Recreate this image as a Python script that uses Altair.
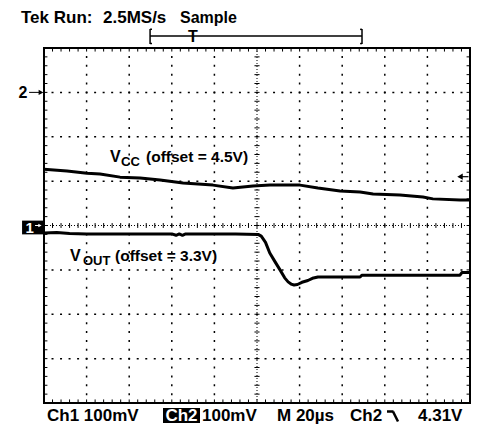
import altair as alt
import pandas as pd
import numpy as np

# ---------------- data ----------------
# time base 20 us/div, 10 divisions -> 0..200 us ; both channels 100 mV/div
vout_t = [0, 6, 12, 20, 40, 60, 62, 63.5, 65, 66.5, 68, 90, 100.5, 102, 104, 106, 108.5,
          110.8, 113, 114.6, 116, 117.4, 119, 121.1, 123.9, 126, 128.6, 148.4, 149.3,
          195.3, 196.2, 200]
vout_mv = [-17, -16, -18, -19, -19, -19, -22, -19, -22, -19, -19, -19, -20, -24, -38, -62, -82,
           -100, -118, -127, -132, -134, -133, -128, -124, -119, -116, -116, -112,
           -112, -106, -106]

vcc_t = [0, 10.8, 20.2, 26.3, 35.7, 45.1, 54.5, 65.3, 79.3, 88.7, 98.1, 106.1, 120.2,
         128.6, 139.0, 148.4, 154.5, 167.1, 177.9, 182.6, 195.3, 200]
vcc_mv = [-173, -177, -182, -184, -191, -193, -197.5, -204, -209, -215.5, -211, -209, -209,
          -215.5, -222, -224.5, -229, -231, -236, -240, -242.5, -242.5]

ch_ref_div = {"1": 0.0, "2": 3.0}     # ground markers (divisions from centre)
mv_per_div = 100.0
trig_level_mv = 4310 - 4500           # Ch2 trigger 4.31 V, offset 4.5 V
trig_window = [49.8, 149.3]           # record bracket (us)

title_parts = ["Tek Run:", "2.5MS/s", "Sample"]
bottom_texts = ["Ch1 100mV", "Ch2", "100mV", "M 20µs", "Ch2", "4.31V"]

# ---------------- layout ----------------
W, H = 463, 419
FONT = "Liberation Sans"
xs = alt.Scale(domain=[-16.901, 200.469], nice=False, zero=False)
ys = alt.Scale(domain=[-4.5408, 4.9014], nice=False, zero=False)
ONE = pd.DataFrame({"d": [0]})


def X(f):
    return alt.X(f, type="quantitative", scale=xs, axis=None)


def Y(f):
    return alt.Y(f, type="quantitative", scale=ys, axis=None)


def rules(df, **kw):
    return alt.Chart(df).mark_rule(color="black", **kw).encode(
        x=X("x0"), x2=alt.X2("x1"), y=Y("y0"), y2=alt.Y2("y1"))


def label(text, px, py, size=16, color="black", align="left", weight="bold", baseline="alphabetic"):
    return alt.Chart(ONE).mark_text(text=text, font=FONT, fontSize=size, fontWeight=weight,
                                    color=color, align=align, baseline=baseline).encode(
        x=alt.value(px), y=alt.value(py))


layers = []

# dotted grid
vx = [t for t in range(20, 200, 20) if t != 100]
layers.append(rules(pd.DataFrame({"x0": vx, "x1": vx, "y0": -4, "y1": 4}),
                    strokeDash=[2, 6.875], strokeDashOffset=1, strokeWidth=1.5))
hy = [v for v in range(-3, 4) if v != 0]
layers.append(rules(pd.DataFrame({"x0": 0, "x1": 200, "y0": hy, "y1": hy}),
                    strokeDash=[2, 6.52], strokeDashOffset=1, strokeWidth=1.5))
# centre cross lines
layers.append(rules(pd.DataFrame({"x0": [100, 0], "x1": [100, 200], "y0": [-4, 0], "y1": [4, 0]}),
                    strokeDash=[1, 2], strokeWidth=1))
mx = np.arange(0, 200.1, 4)
my = np.round(np.arange(-4, 4.01, 0.2), 3)
layers.append(rules(pd.DataFrame({"x0": mx, "x1": mx, "y0": -0.055, "y1": 0.055}), strokeWidth=1))
layers.append(rules(pd.DataFrame({"x0": 98.8, "x1": 101.2, "y0": my, "y1": my}), strokeWidth=1))
# border ticks
bt = pd.concat([
    pd.DataFrame({"x0": mx, "x1": mx, "y0": 4, "y1": 3.92}),
    pd.DataFrame({"x0": mx, "x1": mx, "y0": -4, "y1": -3.92}),
    pd.DataFrame({"x0": 0, "x1": 1.6, "y0": my, "y1": my}),
    pd.DataFrame({"x0": 200, "x1": 198.4, "y0": my, "y1": my}),
])
layers.append(rules(bt, strokeWidth=1))
# border
layers.append(alt.Chart(pd.DataFrame({"x0": [0], "x1": [200], "y0": [-4], "y1": [4]})).mark_rect(
    fillOpacity=0, stroke="black", strokeWidth=2).encode(
    x=X("x0"), x2=alt.X2("x1"), y=Y("y0"), y2=alt.Y2("y1")))

# traces
vout_df = pd.DataFrame({"t": vout_t, "v": [ch_ref_div["1"] + m / mv_per_div for m in vout_mv]})
vcc_df = pd.DataFrame({"t": vcc_t, "v": [ch_ref_div["2"] + m / mv_per_div for m in vcc_mv]})
for df in (vcc_df, vout_df):
    layers.append(alt.Chart(df).mark_line(color="black", strokeWidth=3, strokeJoin="round").encode(
        x=X("t"), y=Y("v"), order="t:Q"))

# channel 2 ground marker
c2 = ch_ref_div["2"]
layers.append(rules(pd.DataFrame({"x0": [-7.0], "x1": [-1.5], "y0": [c2], "y1": [c2]}), strokeWidth=1))
layers.append(alt.Chart(pd.DataFrame({"t": [-1.4], "v": [c2]})).mark_point(
    shape="triangle-right", filled=True, color="black", size=30, opacity=1).encode(x=X("t"), y=Y("v")))
layers.append(alt.Chart(pd.DataFrame({"t": [-9.9], "v": [c2]})).mark_text(
    text="2", font=FONT, fontSize=16, fontWeight="bold", baseline="middle", align="center", dy=1).encode(
    x=X("t"), y=Y("v")))

# channel 1 ground marker (inverse box)
c1 = ch_ref_div["1"]
layers.append(alt.Chart(pd.DataFrame({"x0": [-10.3], "x1": [-0.4], "y0": [c1 + 0.11], "y1": [c1 - 0.2]})).mark_rect(
    color="black").encode(x=X("x0"), x2=alt.X2("x1"), y=Y("y0"), y2=alt.Y2("y1")))
layers.append(alt.Chart(pd.DataFrame({"t": [-6.7], "v": [c1 - 0.045]})).mark_text(
    text="1", font=FONT, fontSize=15, fontWeight="bold", baseline="middle", align="center", color="white", dy=1).encode(
    x=X("t"), y=Y("v")))
layers.append(alt.Chart(pd.DataFrame({"x0": [-4.2], "x1": [-1.8], "y0": [c1], "y1": [c1]})).mark_rule(
    color="white", strokeWidth=1).encode(x=X("x0"), x2=alt.X2("x1"), y=Y("y0"), y2=alt.Y2("y1")))
layers.append(alt.Chart(pd.DataFrame({"t": [-1.9], "v": [c1]})).mark_point(
    shape="triangle-right", filled=True, color="white", size=14, opacity=1).encode(x=X("t"), y=Y("v")))

# trigger level arrow (right edge)
tl = c2 + trig_level_mv / mv_per_div
layers.append(rules(pd.DataFrame({"x0": [195.5], "x1": [199.3], "y0": [tl], "y1": [tl]}), strokeWidth=1.2))
layers.append(alt.Chart(pd.DataFrame({"t": [195.3], "v": [tl]})).mark_point(
    shape="triangle-left", filled=True, color="black", size=40, opacity=1).encode(x=X("t"), y=Y("v")))

# record bracket at top
a, b = trig_window
br = pd.DataFrame({
    "x0": [a, a, a, a, b, b, b],
    "x1": [b, a, a + 0.9, a + 0.9, b, b - 0.9, b - 0.9],
    "y0": [4.27, 4.09, 4.42, 4.10, 4.09, 4.42, 4.10],
    "y1": [4.27, 4.43, 4.42, 4.10, 4.43, 4.42, 4.10],
})
layers.append(rules(br, strokeWidth=1.5))
layers.append(label("T", 185, 34, size=16, align="center"))

# text
layers.append(label(title_parts[0], 13, 14.5, size=17))
layers.append(label(title_parts[1], 95, 14.5, size=17))
layers.append(label(title_parts[2], 172, 14.5, size=16))
layers.append(label("V", 102, 154, size=16))
layers.append(label("CC", 113, 158, size=13))
layers.append(label("(offset = 4.5V)", 138, 154, size=15.5))
layers.append(label("V", 62, 253, size=16))
layers.append(label("OUT", 75, 257, size=13))
layers.append(label("(offset = 3.3V)", 107, 253, size=15.5))

# bottom status line
BS = 17
layers.append(label(bottom_texts[0], 39, 413, size=BS))
layers.append(alt.Chart(ONE).mark_rect(color="black").encode(
    x=alt.value(155), x2=alt.value(192), y=alt.value(400), y2=alt.value(415)))
layers.append(label(bottom_texts[1], 173.5, 413, color="white", align="center", size=BS))
layers.append(label(bottom_texts[2], 194, 413, size=BS))
layers.append(label(bottom_texts[3], 269, 413, size=BS))
layers.append(label(bottom_texts[4], 342, 413, size=BS))
layers.append(alt.Chart(ONE).mark_rule(color="black", strokeWidth=2.5).encode(
    x=alt.value(379), x2=alt.value(385.5), y=alt.value(403.5), y2=alt.value(403.5)))
layers.append(alt.Chart(ONE).mark_rule(color="black", strokeWidth=2.5).encode(
    x=alt.value(385), x2=alt.value(390), y=alt.value(403.5), y2=alt.value(413.5)))
layers.append(label(bottom_texts[5], 410, 413, size=BS))

chart = alt.layer(*layers).properties(
    width=W, height=H, padding=0, background="white",
    autosize=alt.AutoSizeParams(type="none"),
).configure_view(stroke=None)

chart.save("out.html", embed_options={"renderer": "svg", "actions": False})
